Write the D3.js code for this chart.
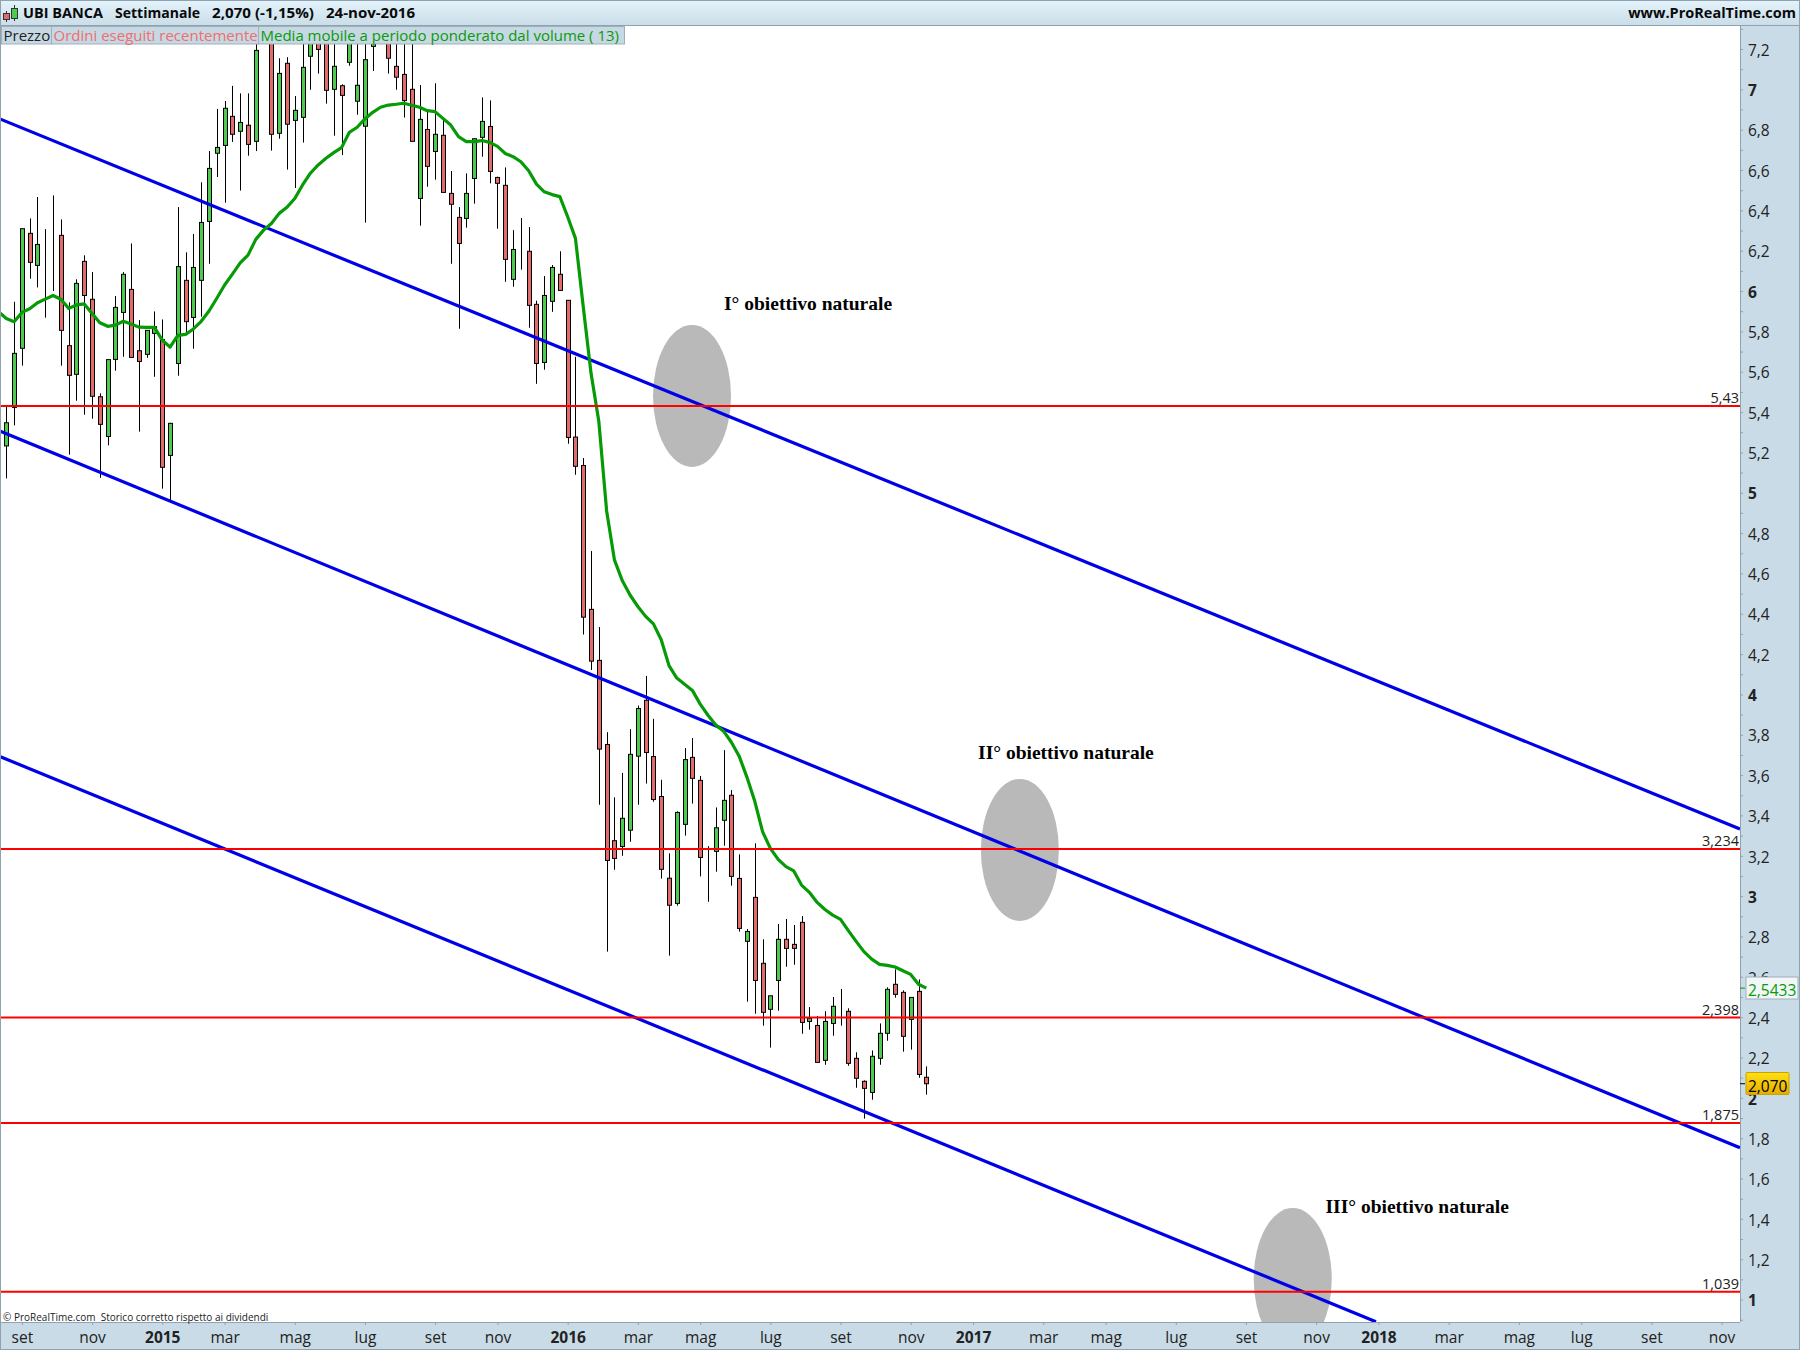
<!DOCTYPE html>
<html>
<head>
<meta charset="utf-8">
<title>UBI BANCA Settimanale</title>
<script src="https://cdn.jsdelivr.net/npm/d3@7"></script>
<style>
html, body { margin: 0; padding: 0; background: #fff; }
svg { display: block; }
text { font-family: "Open Sans", "Noto Sans", sans-serif; }
</style>
</head>
<body>
<div id="chart"></div>
<script>
// weekly candles (those above 7,3 are hidden behind the legend)
var open_vals = [5.232,5.423,5.716,6.286,6.127,6.205,6.208,6.276,5.729,5.587,6.147,5.959,5.476,5.279,5.661,5.894,6.008,5.704,5.686,5.790,
  5.760,5.185,5.641,6.053,5.869,6.053,6.345,6.683,6.722,6.866,6.792,6.822,6.742,7.450,7.400,6.782,7.129,6.846,6.861,7.164,
  7.300,7.350,7.000,7.018,7.134,6.941,6.817,7.213,7.400,7.350,7.114,7.074,7.000,6.459,6.801,6.692,6.772,6.484,6.365,6.360,
  6.558,6.762,6.816,6.563,6.524,6.058,6.200,6.197,5.934,5.646,5.949,6.083,5.954,5.276,5.135,4.422,4.169,3.752,3.275,3.246,
  3.327,3.694,3.971,3.692,3.494,3.089,2.964,3.356,3.688,3.574,3.229,3.222,3.376,3.500,3.088,2.776,2.994,2.667,2.439,2.582,
  2.786,2.761,2.870,2.379,2.359,2.186,2.369,2.482,2.429,2.196,2.082,2.027,2.196,2.320,2.563,2.523,2.389,2.528,2.102];
var high_vals = [5.427,5.947,6.309,6.360,6.466,6.307,6.474,6.355,5.944,6.058,6.177,6.094,5.493,5.660,5.975,6.094,6.236,5.856,5.805,5.899,
  5.859,5.347,6.416,6.192,6.283,6.539,6.694,6.903,6.942,7.017,6.980,6.980,7.250,7.600,7.500,7.154,7.159,6.967,7.300,7.400,
  7.400,7.450,7.300,7.025,7.400,7.300,7.300,7.350,7.550,7.400,7.300,7.300,7.270,7.021,6.889,7.030,6.848,6.595,6.416,6.583,
  6.757,6.960,6.945,6.567,6.613,6.302,6.362,6.317,5.952,6.074,6.129,6.197,5.954,5.674,5.172,4.711,4.334,3.813,3.490,3.611,
  3.828,3.945,4.092,3.879,3.577,3.212,3.421,3.734,3.784,3.596,3.248,3.440,3.724,3.526,3.207,2.837,3.262,2.786,2.506,2.862,
  2.887,2.857,2.901,2.450,2.406,2.430,2.500,2.540,2.444,2.226,2.087,2.235,2.369,2.548,2.637,2.533,2.498,2.587,2.156];
var low_vals = [5.071,5.334,5.630,6.061,6.018,5.868,6.000,5.630,5.189,5.456,5.387,5.367,5.074,5.235,5.605,5.674,5.671,5.303,5.669,5.575,
  5.020,4.964,5.580,5.790,5.714,5.873,6.135,6.565,6.438,6.739,6.498,6.671,6.694,7.330,6.696,6.755,6.602,6.511,6.736,6.998,
  7.078,6.929,6.770,6.674,7.117,6.874,6.339,7.091,7.330,7.078,6.998,6.860,6.742,6.324,6.517,6.552,6.489,6.135,5.813,6.314,
  6.433,6.666,6.534,6.309,6.046,6.021,6.106,5.818,5.540,5.610,5.897,6.003,5.243,5.089,4.297,4.121,3.453,2.725,3.131,3.200,
  3.270,3.453,3.558,3.468,3.087,2.705,2.953,3.300,3.459,3.098,2.972,3.121,3.250,3.052,2.824,2.477,2.417,2.358,2.249,2.432,
  2.650,2.660,2.318,2.338,2.176,2.164,2.308,2.358,2.159,2.050,1.897,1.991,2.164,2.283,2.497,2.229,2.239,2.100,2.016];
var close_vals = [5.347,5.691,6.309,6.142,6.231,6.205,6.208,5.805,5.582,6.038,5.978,5.478,5.339,5.660,5.919,6.083,5.671,5.651,5.805,5.823,
  5.126,5.344,6.121,5.848,6.117,6.340,6.608,6.712,6.906,6.777,6.836,6.727,7.193,7.550,6.777,7.079,6.827,6.896,7.109,7.280,
  7.198,6.995,7.114,6.970,7.350,7.020,7.147,7.250,7.500,7.154,7.060,6.944,6.742,6.851,6.618,6.777,6.489,6.430,6.236,6.484,
  6.755,6.841,6.593,6.534,6.157,6.206,6.200,5.929,5.641,5.978,6.117,6.003,5.274,5.131,4.383,4.165,3.729,3.177,3.187,3.386,
  3.703,3.930,3.712,3.479,3.133,2.955,3.415,3.677,3.584,3.192,3.229,3.339,3.475,3.098,2.840,2.825,2.582,2.424,2.506,2.786,
  2.741,2.741,2.374,2.394,2.176,2.379,2.454,2.482,2.171,2.097,2.047,2.206,2.320,2.538,2.513,2.305,2.498,2.116,2.070];

// volume weighted average (13), first value is the week before the first candle
var vwma_vals = [5.897,5.864,5.848,5.894,5.912,5.942,5.960,5.978,5.959,5.914,5.931,5.936,5.889,5.843,5.825,5.831,5.850,5.836,5.821,5.820,5.820,
  5.757,5.722,5.780,5.785,5.812,5.850,5.901,5.964,6.030,6.084,6.140,6.178,6.256,6.302,6.335,6.385,6.415,6.459,6.526,6.584,
  6.625,6.658,6.686,6.711,6.787,6.812,6.853,6.886,6.911,6.922,6.926,6.931,6.921,6.911,6.894,6.889,6.856,6.823,6.765,6.741,
  6.741,6.746,6.737,6.717,6.682,6.666,6.641,6.596,6.530,6.492,6.478,6.468,6.368,6.261,5.922,5.592,5.353,4.910,4.667,4.565,
  4.493,4.436,4.387,4.350,4.271,4.143,4.081,4.051,4.020,3.952,3.897,3.849,3.818,3.763,3.694,3.589,3.470,3.320,3.237,3.182,
  3.146,3.125,3.055,3.019,2.969,2.934,2.906,2.885,2.829,2.776,2.725,2.688,2.662,2.657,2.649,2.630,2.612,2.563,2.544];

var level_vals = [5.43, 3.234, 2.398, 1.875, 1.039];
var level_labels = ["5,43", "3,234", "2,398", "1,875", "1,039"];

// channel lines: week index and price at both ends
var channel_upper = [[-0.81, 6.853], [222.36, 3.333]];
var channel_middle = [[-0.81, 5.306], [222.36, 1.753]];
var channel_lower = [[-0.81, 3.692], [175.67, 0.890]];

// target ellipses: centre week and price
var target_weeks = [87.95, 130, 165];
var target_prices = [5.48, 3.229, 1.102];
var target_labels = ["I° obiettivo naturale", "II° obiettivo naturale", "III° obiettivo naturale"];
var target_label_weeks = [92.05, 124.64, 169.2];
var target_label_prices = [5.904, 3.678, 1.431];

var month_weeks = [2,11,20,28,37,46,55,63,72,81,89,98,107,116,124,133,141,150,159,168,176,185,194,202,211,220];
var month_labels = ["set","nov","2015","mar","mag","lug","set","nov","2016","mar","mag","lug","set","nov","2017","mar","mag","lug","set","nov","2018","mar","mag","lug","set","nov"];

var width = 1800, height = 1350;
var plot = {left: 1, right: 1740, top: 26, bottom: 1322};

var x = d3.scaleLinear().domain([0, 118]).range([6.3, 926.3]);
var y = d3.scaleLinear().domain([1.039, 5.43]).range([1291.7, 406]);

var svg = d3.select("#chart").append("svg")
    .attr("width", width)
    .attr("height", height);

var defs = svg.append("defs");
defs.append("clipPath").attr("id", "plot-clip")
    .append("rect")
    .attr("x", plot.left).attr("y", plot.top)
    .attr("width", plot.right - plot.left)
    .attr("height", plot.bottom - plot.top);

var head_grad = defs.append("linearGradient").attr("id", "head-grad")
    .attr("x1", 0).attr("y1", 0).attr("x2", 0).attr("y2", 1);
head_grad.append("stop").attr("offset", "0%").attr("stop-color", "#e4f3fb");
head_grad.append("stop").attr("offset", "100%").attr("stop-color", "#c9dde8");

var gold_grad = defs.append("linearGradient").attr("id", "gold-grad")
    .attr("x1", 0).attr("y1", 0).attr("x2", 0).attr("y2", 1);
gold_grad.append("stop").attr("offset", "0%").attr("stop-color", "#ffe014");
gold_grad.append("stop").attr("offset", "100%").attr("stop-color", "#e6ac00");

var panel = "#c9dbe6", edge = "#8fa2ae";

// panels round the plot
svg.append("rect").attr("width", width).attr("height", height).attr("fill", panel);
svg.append("rect").attr("x", plot.left).attr("y", plot.top)
    .attr("width", plot.right - plot.left).attr("height", plot.bottom - plot.top).attr("fill", "#fff");
svg.append("rect").attr("width", width).attr("height", plot.top).attr("fill", "url(#head-grad)");

var chart = svg.append("g").attr("clip-path", "url(#plot-clip)");

// candles
var weeks = d3.range(open_vals.length);
chart.selectAll(".wick").data(weeks).enter().append("line")
    .attr("class", "wick")
    .attr("x1", function(i) { return Math.round(x(i)) + 0.5; })
    .attr("x2", function(i) { return Math.round(x(i)) + 0.5; })
    .attr("y1", function(i) { return y(high_vals[i]); })
    .attr("y2", function(i) { return y(low_vals[i]); })
    .attr("stroke", "#000")
    .attr("stroke-width", 1);

chart.selectAll(".body").data(weeks).enter().append("rect")
    .attr("class", "body")
    .attr("x", function(i) { return Math.round(x(i)) - 1.5; })
    .attr("width", 4)
    .attr("y", function(i) { return y(Math.max(open_vals[i], close_vals[i])); })
    .attr("height", function(i) { return Math.abs(y(open_vals[i]) - y(close_vals[i])); })
    .attr("fill", function(i) { return close_vals[i] >= open_vals[i] ? "#4ecb4e" : "#e26b6b"; })
    .attr("stroke", "#000")
    .attr("stroke-width", 1);

// grey target ellipses
chart.selectAll(".target").data(target_weeks).enter().append("ellipse")
    .attr("class", "target")
    .attr("cx", function(d) { return x(d); })
    .attr("cy", function(d, i) { return y(target_prices[i]); })
    .attr("rx", 39)
    .attr("ry", 71)
    .attr("fill", "#b9b9b9");

// channel lines
[channel_upper, channel_middle, channel_lower].forEach(function(pts) {
    chart.append("line")
        .attr("x1", x(pts[0][0])).attr("y1", y(pts[0][1]))
        .attr("x2", x(pts[1][0])).attr("y2", y(pts[1][1]))
        .attr("stroke", "#0000e6")
        .attr("stroke-width", 3.2);
});

// moving average
chart.append("path")
    .datum(vwma_vals)
    .attr("fill", "none")
    .attr("stroke", "#069a06")
    .attr("stroke-width", 3.2)
    .attr("stroke-linejoin", "round")
    .attr("d", d3.line()
        .x(function(d, i) { return x(i - 1); })
        .y(function(d) { return y(d); }));

// horizontal levels
chart.selectAll(".level").data(level_vals).enter().append("line")
    .attr("class", "level")
    .attr("x1", plot.left).attr("x2", plot.right)
    .attr("y1", function(d) { return y(d); })
    .attr("y2", function(d) { return y(d); })
    .attr("stroke", "#ff0000")
    .attr("stroke-width", 2);

svg.selectAll(".level-label").data(level_labels).enter().append("text")
    .attr("class", "level-label")
    .attr("x", plot.right - 1)
    .attr("y", function(d, i) { return y(level_vals[i]) - 3; })
    .attr("text-anchor", "end")
    .attr("font-size", 14.5)
    .attr("fill", "#222")
    .text(function(d) { return d; });

// annotations
svg.selectAll(".target-label").data(target_labels).enter().append("text")
    .attr("class", "target-label")
    .attr("x", function(d, i) { return x(target_label_weeks[i]); })
    .attr("y", function(d, i) { return y(target_label_prices[i]); })
    .attr("font-size", 19.5)
    .attr("font-weight", "bold")
    .style("font-family", "'Liberation Serif', serif")
    .attr("fill", "#000")
    .text(function(d) { return d; });

// right axis
var price_ticks = d3.range(9, 74).map(function(d) { return d / 10; });
var y_axis = svg.append("g")
    .attr("transform", "translate(" + plot.right + ",0)")
    .call(d3.axisRight(y)
        .tickValues(price_ticks)
        .tickSize(3)
        .tickPadding(5)
        .tickFormat(function(d) {
            var tenths = Math.round(d * 10);
            if (tenths % 2 == 1 || d > 7.25 || d < 1) return "";
            return (tenths % 10 == 0) ? String(tenths / 10) : String(d).replace(".", ",");
        }));
y_axis.select(".domain").attr("stroke", edge).attr("d", "M0.5," + plot.top + "V" + plot.bottom);
y_axis.selectAll(".tick line").attr("stroke", edge);
y_axis.selectAll(".tick text")
    .attr("font-size", 15.5)
    .attr("font-family", null)
    .attr("fill", "#222")
    .attr("dy", "0.4em")
    .attr("font-weight", function(d) { return Math.round(d * 10) % 10 == 0 ? "bold" : "normal"; });

// bottom axis
var x_axis = svg.append("g")
    .attr("transform", "translate(0," + plot.bottom + ")")
    .call(d3.axisBottom(x)
        .tickValues(month_weeks)
        .tickSize(3)
        .tickPadding(7)
        .tickFormat(function(d, i) { return month_labels[i]; }));
x_axis.select(".domain").attr("stroke", edge).attr("d", "M" + plot.left + ",0.5H" + plot.right);
x_axis.selectAll(".tick line").attr("stroke", edge);
x_axis.selectAll(".tick text")
    .attr("font-size", 15.5)
    .attr("font-family", null)
    .attr("fill", "#222")
    .attr("font-weight", function(d, i) { return month_labels[i].length == 4 ? "bold" : "normal"; });

// current value boxes
var ma_y = y(vwma_vals[vwma_vals.length - 1]);
var last_y = y(close_vals[close_vals.length - 1]);
svg.append("line").attr("x1", plot.right).attr("x2", plot.right + 5).attr("y1", ma_y).attr("y2", ma_y).attr("stroke", "#069a06");
svg.append("line").attr("x1", plot.right).attr("x2", plot.right + 5).attr("y1", last_y).attr("y2", last_y).attr("stroke", "#000");
svg.append("rect").attr("x", 1746).attr("y", 977).attr("width", 52).attr("height", 22)
    .attr("fill", "#f2f6f8").attr("stroke", "#9db0ba");
svg.append("text").attr("x", 1748).attr("y", 996).attr("font-size", 15.5).attr("fill", "#069a06")
    .text(d3.format(".4f")(2.5433).replace(".", ","));
svg.append("rect").attr("x", 1746).attr("y", 1072.5).attr("width", 43).attr("height", 22).attr("rx", 1)
    .attr("fill", "url(#gold-grad)").attr("stroke", "#c9a400");
svg.append("text").attr("x", 1748).attr("y", 1091.5).attr("font-size", 15.5).attr("fill", "#000")
    .text("2,070");

// title bar
var title_parts = ["UBI BANCA", "Settimanale", "2,070 (-1,15%)", "24-nov-2016"];
var title_x = [23, 115, 212, 326];
var title_w = [80, 85, 102, 89];
svg.selectAll(".title").data(title_parts).enter().append("text")
    .attr("class", "title")
    .attr("x", function(d, i) { return title_x[i]; })
    .attr("y", 18)
    .attr("font-size", 14.5)
    .attr("font-weight", "bold")
    .attr("fill", "#0a0a0a")
    .attr("textLength", function(d, i) { return title_w[i]; })
    .attr("lengthAdjust", "spacingAndGlyphs")
    .text(function(d) { return d; });
svg.append("text").attr("x", 1796).attr("y", 18).attr("text-anchor", "end")
    .attr("font-size", 14.5).attr("font-weight", "bold").attr("fill", "#0a0a0a")
    .text("www.ProRealTime.com");

// small icon in the title bar
svg.append("line").attr("x1", 6.5).attr("x2", 6.5).attr("y1", 11).attr("y2", 22).attr("stroke", "#333");
svg.append("rect").attr("x", 3.5).attr("y", 13.5).attr("width", 6).attr("height", 6).attr("fill", "#e26b6b").attr("stroke", "#333");
svg.append("line").attr("x1", 14.5).attr("x2", 14.5).attr("y1", 5).attr("y2", 21).attr("stroke", "#333");
svg.append("rect").attr("x", 11.5).attr("y", 8.5).attr("width", 6).attr("height", 10).attr("fill", "#4ecb4e").attr("stroke", "#333");

// legend boxes
var legend_names = ["Prezzo", "Ordini eseguiti recentemente", "Media mobile a periodo ponderato dal volume ( 13)"];
var legend_colors = ["#222", "#f06e6e", "#0a9a0a"];
var legend_x = [1, 51, 258];
var legend_w = [50, 207, 366];
svg.selectAll(".legend-box").data(legend_names).enter().append("rect")
    .attr("class", "legend-box")
    .attr("x", function(d, i) { return legend_x[i] + 0.5; })
    .attr("y", plot.top + 0.5)
    .attr("width", function(d, i) { return legend_w[i]; })
    .attr("height", 17.5)
    .attr("fill", "#c6d8e3")
    .attr("stroke", "#9fb0bb");
svg.selectAll(".legend-text").data(legend_names).enter().append("text")
    .attr("class", "legend-text")
    .attr("x", function(d, i) { return legend_x[i] + 2.5; })
    .attr("y", 41)
    .attr("font-size", 15)
    .attr("fill", function(d, i) { return legend_colors[i]; })
    .text(function(d) { return d; });

// footer note
svg.append("text").attr("x", 3).attr("y", 1321)
    .attr("font-size", 10).attr("fill", "#222")
    .style("white-space", "pre")
    .text("© ProRealTime.com  Storico corretto rispetto ai dividendi");

// window border
svg.append("rect").attr("x", 0.5).attr("y", 0.5).attr("width", width - 1).attr("height", height - 1)
    .attr("fill", "none").attr("stroke", edge);
svg.append("line").attr("x1", 0).attr("x2", width).attr("y1", plot.top - 0.5).attr("y2", plot.top - 0.5).attr("stroke", edge);
</script>
</body>
</html>
